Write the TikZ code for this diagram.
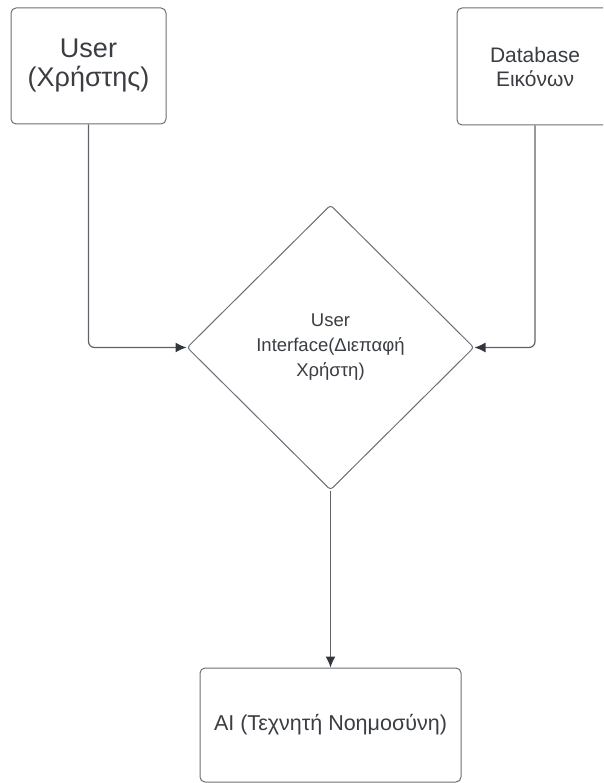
\documentclass[tikz,border=0pt]{standalone}
\usepackage{fontspec}
\setmainfont{Liberation Sans}
\usetikzlibrary{arrows.meta,positioning,shapes.geometric}
\usepackage{xcolor}
\definecolor{ink}{HTML}{3A3D42}
\definecolor{edge}{HTML}{6B6F75}
\definecolor{wire}{HTML}{5F6369}
\definecolor{tip}{HTML}{33373D}
\tikzset{
  base/.style={font=\fontsize{18.5}{25}\selectfont, text=ink},
  box/.style={base, rounded corners=5pt, draw=edge, line width=1pt, fill=white, align=center, inner sep=0pt},
  choice/.style={base, diamond, rounded corners=3pt, draw=edge, line width=1pt, fill=white, align=center, inner sep=0pt},
  arrow/.style={-{Latex[length=11pt,width=10pt,color=tip]}, line width=1.2pt, draw=wire, rounded corners=6pt},
}
\begin{document}
\begin{tikzpicture}[x=1pt,y=-1pt]
  \useasboundingbox (0,0) rectangle (603,783);
  \clip (0,0) rectangle (603,783);

  \node[box,font=\fontsize{27}{29}\selectfont,minimum width=155pt,minimum height=116pt] (user) at (88.5,66) {User\\(Χρήστης)};
  \node[box,font=\fontsize{21}{24}\selectfont,minimum width=156pt,minimum height=117pt] (db) at (535,66.5) {Database\\Εικόνων};
  \node[choice,minimum width=287pt,minimum height=285pt] (ui) at (330.5,347.5) {User\\Interface(Διεπαφή\\Χρήστη)};
  \node[box,font=\fontsize{21.5}{25}\selectfont,minimum width=261pt,minimum height=114pt] (ai) at (330.5,725) {AI (Τεχνητή Νοημοσύνη)};

  \draw[arrow] (user.south) |- (ui.west);
  \draw[arrow] (db.south) |- (ui.east);
  \draw[arrow] (ui.south) -- (ai.north);
\end{tikzpicture}
\end{document}
